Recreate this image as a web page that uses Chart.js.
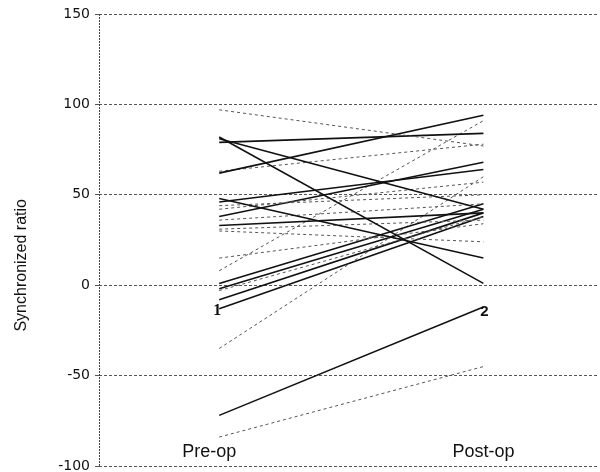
<!DOCTYPE html>
<html>
<head>
<meta charset="utf-8">
<script src="https://cdn.jsdelivr.net/npm/chart.js@4/dist/chart.umd.min.js"></script>
<style>
html,body{margin:0;padding:0;background:#fff;}
#wrap{width:600px;height:472px;}
</style>
</head>
<body>
<div id="wrap"><canvas id="c" width="600" height="472"></canvas></div>
<script>
// x positions of the two categories
const categories = ['Pre-op', 'Post-op'];
const categoryX = [1, 2];
// one entry per patient line
const preValues  = [97, 82, 81, 79, 62, 63, 48, 46, 44, 42, 38, 36, 33, 31, 30, 15, 8, 1, -2, -3, -8, -13, -35, -72, -84];
const postValues = [77,  1, 42, 84, 94, 78, 15, 64, 50, 57, 68, 45, 40, 36, 24, 34, 91, 45, 42, 38, 40, 38, 60, -12, -45];
// line style per patient (s = solid, d = dashed)
const lineKinds  = ['d','s','s','s','s','d','s','s','d','d','s','d','s','d','d','d','d','s','s','d','s','s','d','s','d'];
const yTicks = [-100, -50, 0, 50, 100, 150];
const pointLabels = ['1', '2'];
const pointLabelValues = [-13, -12];
const yTitle = 'Synchronized ratio';

const datasets = preValues.map((p, i) => {
  const solid = lineKinds[i] === 's';
  return {
    label: 'Patient ' + (i + 1),
    data: [{x: categoryX[0], y: p}, {x: categoryX[1], y: postValues[i]}],
    borderColor: solid ? '#111' : '#555',
    borderWidth: solid ? 1.6 : 1,
    borderDash: solid ? [] : [3, 3],
    pointRadius: 0,
    tension: 0,
    fill: false
  };
});

const decor = {
  id: 'decor',
  afterDraw(chart) {
    const ctx = chart.ctx;
    const xs = chart.scales.x, ys = chart.scales.y;
    const a = chart.chartArea;
    ctx.save();
    // dotted left axis line
    ctx.strokeStyle = '#444';
    ctx.lineWidth = 1;
    ctx.setLineDash([2, 1]);
    ctx.beginPath();
    ctx.moveTo(a.left + 0.5, a.top);
    ctx.lineTo(a.left + 0.5, a.bottom);
    ctx.stroke();
    ctx.setLineDash([]);
    // category labels inside the plot
    ctx.fillStyle = '#111';
    ctx.font = '18px "Liberation Sans", Arial, sans-serif';
    ctx.textAlign = 'center';
    ctx.textBaseline = 'middle';
    ctx.fillText(categories[0], xs.getPixelForValue(categoryX[0]) - 10, ys.getPixelForValue(-92));
    ctx.fillText(categories[1], xs.getPixelForValue(categoryX[1]), ys.getPixelForValue(-92));
    // point number labels
    ctx.font = 'bold 16px "Liberation Serif", serif';
    ctx.fillText(pointLabels[0], xs.getPixelForValue(categoryX[0]) - 2, ys.getPixelForValue(pointLabelValues[0] - 1));
    ctx.font = 'bold 15px "Liberation Sans", Arial, sans-serif';
    ctx.fillText(pointLabels[1], xs.getPixelForValue(categoryX[1]) + 1, ys.getPixelForValue(pointLabelValues[1] - 3));
    // y axis title
    ctx.font = '16px "Liberation Sans", Arial, sans-serif';
    ctx.translate(22, ys.getPixelForValue(11));
    ctx.rotate(-Math.PI / 2);
    ctx.fillText(yTitle, 0, 0);
    ctx.restore();
  }
};

new Chart(document.getElementById('c'), {
  type: 'line',
  data: { datasets },
  options: {
    responsive: false,
    animation: false,
    layout: { padding: { top: 14, bottom: 6, right: 3, left: 0 } },
    plugins: { legend: { display: false }, tooltip: { enabled: false } },
    scales: {
      x: { type: 'linear', min: 0.545, max: 2.43, display: false },
      y: {
        type: 'linear', min: -100, max: 150,
        afterBuildTicks(scale) { scale.ticks = yTicks.map(v => ({ value: v })); },
        afterFit(scale) { scale.width = 99; scale.paddingTop = 0; scale.paddingBottom = 0; },
        ticks: {
          color: '#111',
          font: { family: '"DejaVu Sans", Verdana, sans-serif', size: 14 },
          padding: 5
        },
        grid: { color: '#555', lineWidth: 1, tickLength: 4 },
        border: { display: false, dash: [3, 2] }
      }
    }
  },
  plugins: [decor]
});
</script>
</body>
</html>
